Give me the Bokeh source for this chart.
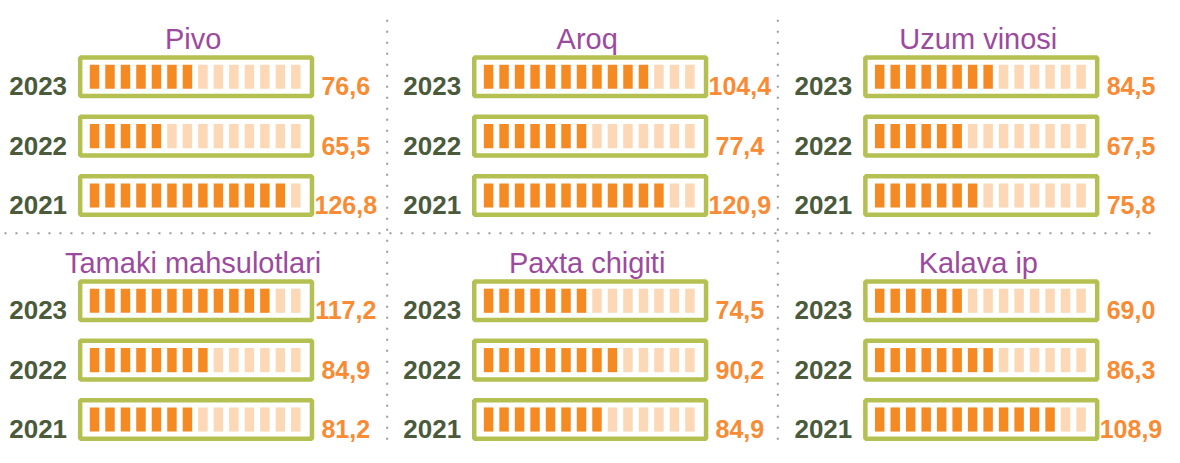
from bokeh.plotting import figure
from bokeh.models import Range1d, ColumnDataSource
from bokeh.core.properties import value
from bokeh.embed import file_html
from bokeh.resources import INLINE

# ---------------- data ----------------
titles = ["Pivo", "Aroq", "Uzum vinosi", "Tamaki mahsulotlari", "Paxta chigiti", "Kalava ip"]
years = ["2023", "2022", "2021"]

pivo = [76.6, 65.5, 126.8]
aroq = [104.4, 77.4, 120.9]
uzum_vinosi = [84.5, 67.5, 75.8]
tamaki = [117.2, 84.9, 81.2]
paxta_chigiti = [74.5, 90.2, 84.9]
kalava_ip = [69.0, 86.3, 108.9]

# number of highlighted segments out of 14
pivo_filled = [7, 5, 13]
aroq_filled = [11, 7, 12]
uzum_vinosi_filled = [8, 6, 7]
tamaki_filled = [12, 8, 7]
paxta_chigiti_filled = [7, 9, 8]
kalava_ip_filled = [6, 8, 12]

n_segments = 14

values = [pivo, aroq, uzum_vinosi, tamaki, paxta_chigiti, kalava_ip]
filled = [pivo_filled, aroq_filled, uzum_vinosi_filled, tamaki_filled,
          paxta_chigiti_filled, kalava_ip_filled]

# ---------------- style / layout ----------------
ORANGE = "#F58A22"
LIGHT = "#FCD8B6"
GREEN = "#B4C152"
PURPLE = "#9C4A9E"
YEARC = "#4A5A3B"
VALC = "#F88B33"
SEP = "#9A9A9A"
SANS = "Liberation Sans"

W, H = 1164, 447
p = figure(width=W, height=H, x_range=Range1d(0, 1180), y_range=Range1d(463, 0),
           output_backend="svg", toolbar_location=None,
           x_axis_type=None, y_axis_type=None, min_border=0)
p.grid.visible = False
p.outline_line_color = None
p.background_fill_color = "white"
p.border_fill_color = "white"

col_left = [78.5, 478.0, 874.5]
row_center = [79.0, 311.0]
row_step = 61.5
box_w, box_h, box_lw = 239.5, 44.5, 4.5
seg_off, seg_step, seg_w, seg_h = 12.0, 15.7, 9.6, 25.0

# separators
p.line([392, 392], [20, 463], line_color=SEP, line_width=2, line_dash="2 9")
p.line([788, 788], [20, 463], line_color=SEP, line_width=2, line_dash="2 9")
p.line([4, 1168], [241, 241], line_color=SEP, line_width=2, line_dash="2 9")

seg = dict(left=[], right=[], top=[], bottom=[], color=[])
box = dict(x=[], y=[])
yr = dict(x=[], y=[], t=[])
vl = dict(x=[], y=[], t=[])
tt = dict(x=[], y=[], t=[])

for k, title in enumerate(titles):
    c, r = k % 3, k // 3
    left = col_left[c]
    y0 = row_center[r]
    tt["x"].append(left + box_w / 2 - 3)
    tt["y"].append(y0 - 39.5)
    tt["t"].append(title)
    for j, year in enumerate(years):
        yc = y0 + j * row_step
        box["x"].append(left + box_w / 2)
        box["y"].append(yc)
        for i in range(n_segments):
            sl = left + seg_off + i * seg_step
            seg["left"].append(sl)
            seg["right"].append(sl + seg_w)
            seg["top"].append(yc - seg_h / 2)
            seg["bottom"].append(yc + seg_h / 2)
            seg["color"].append(ORANGE if i < filled[k][j] else LIGHT)
        yr["x"].append(left - 11)
        yr["y"].append(yc + 10)
        yr["t"].append(year)
        vl["x"].append(left + box_w + 32)
        vl["y"].append(yc + 10)
        vl["t"].append(f"{values[k][j]:.1f}".replace(".", ","))

p.quad(left="left", right="right", top="top", bottom="bottom", source=ColumnDataSource(seg),
       fill_color="color", line_color=None)
p.rect(x="x", y="y", width=box_w - box_lw, height=box_h - box_lw, source=ColumnDataSource(box),
       fill_color=None, line_color=GREEN, line_width=box_lw)

p.text(x="x", y="y", text="t", source=ColumnDataSource(yr), text_font=value(SANS),
       text_font_style="bold", text_font_size="26px", text_color=YEARC,
       text_align="right", text_baseline="alphabetic")
p.text(x="x", y="y", text="t", source=ColumnDataSource(vl), text_font=value(SANS),
       text_font_style="bold", text_font_size="25px", text_color=VALC,
       text_align="center", text_baseline="alphabetic")
p.text(x="x", y="y", text="t", source=ColumnDataSource(tt), text_font=value(SANS),
       text_font_size="29px", text_color=PURPLE,
       text_align="center", text_baseline="alphabetic")

open("out.html", "w").write(file_html(p, INLINE))
